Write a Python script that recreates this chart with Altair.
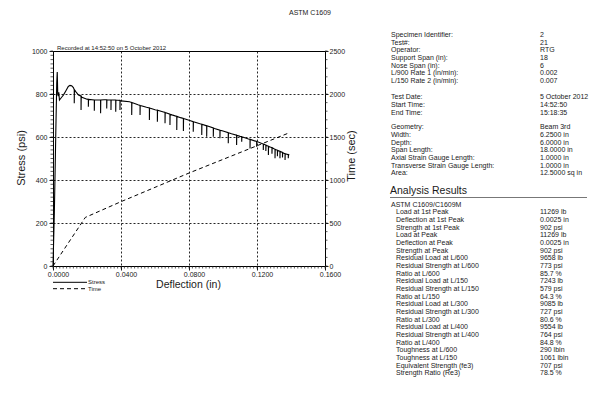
import altair as alt
import pandas as pd
import numpy as np

FONT = "Liberation Sans"
INK = "#1a1a1a"

# ---------------- data ----------------
curve_defl = [0.0000, 0.0008, 0.0016, 0.0022, 0.0025, 0.0028, 0.0031, 0.0034, 0.0038,
              0.0044, 0.0052, 0.0062, 0.0076, 0.0090, 0.0100, 0.0110, 0.0120, 0.0135,
              0.0150, 0.0170, 0.0200, 0.0250, 0.0300, 0.0350, 0.0400, 0.0450, 0.0500,
              0.0550, 0.0600, 0.0650, 0.0700, 0.0750, 0.0800, 0.0850, 0.0900, 0.0950,
              0.1000, 0.1050, 0.1100, 0.1150, 0.1200, 0.1250, 0.1300, 0.1350, 0.1390]
curve_stress = [0, 250, 600, 850, 902, 800, 790, 808, 772,
                778, 786, 796, 815, 835, 840, 838, 830, 810,
                795, 785, 776, 772, 773, 772, 768, 764, 750,
                738, 727, 716, 703, 690, 678, 665, 653, 640,
                628, 615, 603, 591, 579, 563, 545, 528, 516]

spike_defl = [0.0125, 0.0165, 0.0208, 0.0243, 0.0280, 0.0316, 0.0341, 0.0369, 0.0394,
              0.0463, 0.0512, 0.0567, 0.0614, 0.0659, 0.0688, 0.0728, 0.0767, 0.0825,
              0.0875, 0.0904, 0.0943, 0.0982, 0.1031, 0.1080, 0.1110, 0.1159, 0.1198,
              0.1237, 0.1252, 0.1267, 0.1288, 0.1306, 0.1320, 0.1335, 0.1350, 0.1365,
              0.1384]
spike_top = [820, 790, 775, 772, 772, 773, 772, 772, 770,
             760, 747, 735, 724, 714, 706, 696, 686, 671,
             659, 652, 642, 632, 620, 608, 601, 589, 579,
             567, 562, 557, 550, 543, 538, 533, 527, 522,
             518]
spike_bottom = [757, 726, 741, 722, 710, 733, 726, 718, 726,
                702, 702, 679, 671, 664, 656, 633, 628, 625,
                609, 601, 601, 594, 571, 563, 578, 547, 555,
                540, 535, 516, 522, 501, 510, 501, 505, 493,
                501]

time_defl = [0.0000, 0.0190, 0.0400, 0.0800, 0.1385]
time_sec = [0, 565, 748, 1081, 1545]

x_ticks = [0.0, 0.04, 0.08, 0.12, 0.16]
stress_ticks = [0, 200, 400, 600, 800, 1000]
time_ticks = [0, 500, 1000, 1500, 2000, 2500]

spec_labels = ["Specimen Identifier:", "Test#:", "Operator:", "Support Span (in):",
               "Nose Span (in):", "L/900 Rate 1 (in/min):", "L/150 Rate 2 (in/min):"]
spec_values = ["2", "21", "RTG", "18", "6", "0.002", "0.007"]
date_labels = ["Test Date:", "Start Time:", "End Time:"]
date_values = ["5 October 2012", "14:52:50", "15:18:35"]
geom_labels = ["Geometry:", "Width:", "Depth:", "Span Length:", "Axial Strain Gauge Length:",
               "Transverse Strain Gauge Length:", "Area:"]
geom_values = ["Beam 3rd", "6.2500 in", "6.0000 in", "18.0000 in", "1.0000 in",
               "1.0000 in", "12.5000 sq in"]
result_labels = ["Load at 1st Peak", "Deflection at 1st Peak", "Strength at 1st Peak",
                 "Load at Peak", "Deflection at Peak", "Strength at Peak",
                 "Residual Load at L/600", "Residual Strength at L/600", "Ratio at L/600",
                 "Residual Load at L/150", "Residual Strength at L/150", "Ratio at L/150",
                 "Residual Load at L/300", "Residual Strength at L/300", "Ratio at L/300",
                 "Residual Load at L/400", "Residual Strength at L/400", "Ratio at L/400",
                 "Toughness at L/600", "Toughness at L/150", "Equivalent Strength (fe3)",
                 "Strength Ratio (Re3)"]
result_values = ["11269 lb", "0.0025 in", "902 psi", "11269 lb", "0.0025 in", "902 psi",
                 "9658 lb", "773 psi", "85.7 %", "7243 lb", "579 psi", "64.3 %",
                 "9085 lb", "727 psi", "80.6 %", "9554 lb", "764 psi", "84.8 %",
                 "290 lbin", "1061 lbin", "707 psi", "78.5 %"]

# ---------------- build tables ----------------
rows = [(d, 0, s) for d, s in zip(curve_defl, curve_stress)]
for d, t, b in zip(spike_defl, spike_top, spike_bottom):
    rows += [(d, 0, t), (d, 1, b), (d + 0.0001, 0, t)]
rows.sort(key=lambda r: (r[0], r[1]))
stress_df = pd.DataFrame({"defl": [r[0] for r in rows],
                          "stress": [r[2] for r in rows],
                          "idx": list(range(len(rows)))})
time_df = pd.DataFrame({"defl": time_defl, "time": time_sec})

W, H = 272, 215
xscale = alt.Scale(domain=[0, 0.16], nice=False, zero=False)
sscale = alt.Scale(domain=[0, 1000], nice=False)
tscale = alt.Scale(domain=[0, 2500], nice=False)

axis_common = dict(labelFont=FONT, labelFontSize=7, labelColor=INK, tickColor=INK,
                   domain=False, title=None, labelOverlap=False, labelFlush=False)

stress_line = alt.Chart(stress_df).mark_line(color="black", strokeWidth=1.1).encode(
    x=alt.X("defl:Q", scale=xscale,
            axis=alt.Axis(values=x_ticks, format=".4f", grid=True, gridDash=[2, 2],
                          gridColor="black", gridOpacity=0.85, tickSize=4, labelPadding=0,
                          labelOffset=5, **axis_common)),
    y=alt.Y("stress:Q", scale=sscale,
            axis=alt.Axis(values=stress_ticks, orient="left", format="d", grid=True,
                          gridDash=[2, 2], gridColor="black", gridOpacity=0.85,
                          tickSize=4, labelPadding=2, **axis_common)),
    order=alt.Order("idx:Q"),
)

time_line = alt.Chart(time_df).mark_line(color="black", strokeWidth=1, strokeDash=[4, 3]).encode(
    x=alt.X("defl:Q", scale=xscale, axis=None),
    y=alt.Y("time:Q", scale=tscale,
            axis=alt.Axis(values=time_ticks, orient="right", format="d", grid=False,
                          tickSize=3, labelPadding=1, **axis_common)),
)

# minor ticks
left_minor = alt.Chart(pd.DataFrame({"v": np.arange(0, 1001, 20)})).mark_rule(
    color=INK, strokeWidth=0.7).encode(
    y=alt.Y("v:Q", scale=sscale, axis=None), x=alt.value(-2.5), x2=alt.value(0))
right_minor = alt.Chart(pd.DataFrame({"v": np.arange(0, 2501, 100)})).mark_rule(
    color=INK, strokeWidth=0.7).encode(
    y=alt.Y("v:Q", scale=tscale, axis=None), x=alt.value(W), x2=alt.value(W + 2.5))
bottom_minor = alt.Chart(pd.DataFrame({"v": np.round(np.arange(0, 0.1601, 0.002), 4)})).mark_rule(
    color=INK, strokeWidth=0.7).encode(
    x=alt.X("v:Q", scale=xscale, axis=None), y=alt.value(H), y2=alt.value(H + 2.5))


def label(text, x, y, size=7, angle=0, align="left", weight="normal"):
    return alt.Chart(pd.DataFrame({"t": [text]})).mark_text(
        font=FONT, fontSize=size, color=INK, align=align, baseline="middle",
        angle=angle, fontWeight=weight).encode(
        text="t:N", x=alt.value(x), y=alt.value(y))


title_t = label("ASTM C1609", 257, -38.3, size=7, align="center")
rec_t = label("Recorded at 14:52:50 on 5 October 2012", 4, -3.5, size=6)
ytitle = label("Stress (psi)", -31, 107, size=11, angle=270, align="center")
rtitle = label("Time (sec)", 298.7, 105, size=11, angle=270, align="center")
xtitle = label("Deflection (in)", 135.5, 234, size=10.5, align="center")

leg_solid = alt.Chart(pd.DataFrame({"a": [0]})).mark_rule(color="black", strokeWidth=1).encode(
    x=alt.value(0), x2=alt.value(34), y=alt.value(231.3))
leg_dash = alt.Chart(pd.DataFrame({"a": [0]})).mark_rule(color="black", strokeWidth=1,
                                                        strokeDash=[4, 3]).encode(
    x=alt.value(0), x2=alt.value(34), y=alt.value(237.7))
leg_s = label("Stress", 35, 231.3, size=6)
leg_t = label("Time", 35, 237.7, size=6)

# right info panel
STEP = 7.67
lab_rows, ind_rows, val_rows = [], [], []
for i, (l, v) in enumerate(zip(spec_labels, spec_values)):
    lab_rows.append((l, -16 + i * STEP)); val_rows.append((v, -16 + i * STEP))
for i, (l, v) in enumerate(zip(date_labels, date_values)):
    lab_rows.append((l, 46.3 + i * STEP)); val_rows.append((v, 46.3 + i * STEP))
for i, (l, v) in enumerate(zip(geom_labels, geom_values)):
    lab_rows.append((l, 76.3 + i * STEP)); val_rows.append((v, 76.3 + i * STEP))
lab_rows.append(("ASTM C1609/C1609M", 154))
for i, (l, v) in enumerate(zip(result_labels, result_values)):
    ind_rows.append((l, 161.3 + i * STEP)); val_rows.append((v, 161.3 + i * STEP))


def text_col(rows_, x):
    df = pd.DataFrame({"t": [r[0] for r in rows_], "py": [r[1] for r in rows_]})
    return alt.Chart(df).mark_text(font=FONT, fontSize=7, color=INK, align="left",
                                   baseline="middle").encode(
        text="t:N", x=alt.value(x), y=alt.Y("py:Q", scale=None, axis=None))


labels_l = text_col(lab_rows, 338)
labels_i = text_col(ind_rows, 343)
values_c = text_col(val_rows, 487)
ar_t = label("Analysis Results", 337, 140, size=10.5)
ar_rule = alt.Chart(pd.DataFrame({"a": [0]})).mark_rule(color="#777", strokeWidth=1).encode(
    x=alt.value(337), x2=alt.value(534), y=alt.value(146.5))

chart = alt.layer(
    stress_line, time_line, left_minor, right_minor, bottom_minor,
    title_t, rec_t, ytitle, rtitle, xtitle,
    leg_solid, leg_dash, leg_s, leg_t,
    labels_l, labels_i, values_c, ar_t, ar_rule,
).resolve_scale(x="independent", y="independent").properties(
    width=W, height=H,
    autosize=alt.AutoSizeParams(type="none"),
    padding={"left": 45, "top": 43, "right": 265, "bottom": 123},
    background="white",
).configure_view(stroke="black", strokeWidth=1)

chart.save("out.html", embed_options={"renderer": "svg", "actions": False})
